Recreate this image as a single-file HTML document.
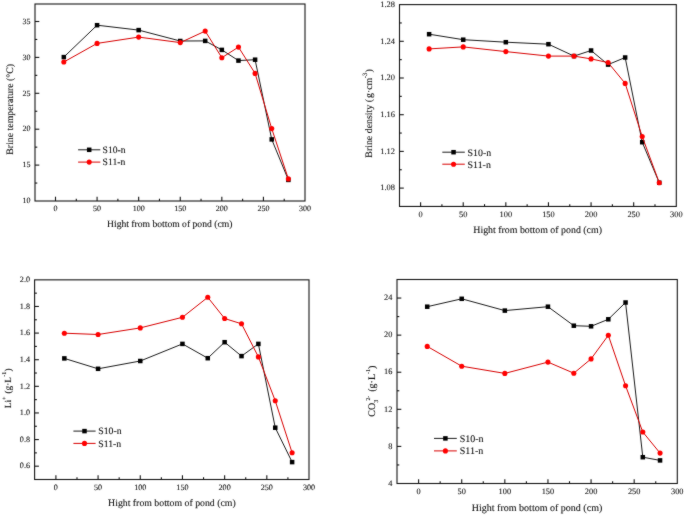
<!DOCTYPE html>
<html><head><meta charset="utf-8"><style>
html,body{margin:0;padding:0;background:#fff;}
body{width:685px;height:516px;overflow:hidden;}
svg{display:block;font-family:"Liberation Serif", serif;will-change:transform;}
text{fill:#111;stroke:#111;stroke-width:0.1px;text-rendering:geometricPrecision;}
</style></head><body>
<svg width="685" height="516" viewBox="0 0 685 516">
<defs><filter id="soft" color-interpolation-filters="sRGB" filterUnits="userSpaceOnUse" x="0" y="0" width="685" height="516"><feConvolveMatrix order="3" kernelMatrix="1 2 1 2 28 2 1 2 1" edgeMode="duplicate"/></filter></defs>
<rect width="685" height="516" fill="#fff"/>
<g filter="url(#soft)">
<rect width="685" height="516" fill="#fff"/>
<rect x="35" y="4" width="270" height="197" fill="none" stroke="#151515" stroke-width="1.1"/>
<line x1="55.5" y1="201" x2="55.5" y2="196.7" stroke="#151515" stroke-width="1.1"/>
<text x="55.5" y="211.4" text-anchor="middle" font-size="8.0">0</text>
<line x1="76.29" y1="201" x2="76.29" y2="198.7" stroke="#151515" stroke-width="1.1"/>
<line x1="97.08" y1="201" x2="97.08" y2="196.7" stroke="#151515" stroke-width="1.1"/>
<text x="97.08" y="211.4" text-anchor="middle" font-size="8.0">50</text>
<line x1="117.88" y1="201" x2="117.88" y2="198.7" stroke="#151515" stroke-width="1.1"/>
<line x1="138.67" y1="201" x2="138.67" y2="196.7" stroke="#151515" stroke-width="1.1"/>
<text x="138.67" y="211.4" text-anchor="middle" font-size="8.0">100</text>
<line x1="159.46" y1="201" x2="159.46" y2="198.7" stroke="#151515" stroke-width="1.1"/>
<line x1="180.25" y1="201" x2="180.25" y2="196.7" stroke="#151515" stroke-width="1.1"/>
<text x="180.25" y="211.4" text-anchor="middle" font-size="8.0">150</text>
<line x1="201.04" y1="201" x2="201.04" y2="198.7" stroke="#151515" stroke-width="1.1"/>
<line x1="221.83" y1="201" x2="221.83" y2="196.7" stroke="#151515" stroke-width="1.1"/>
<text x="221.83" y="211.4" text-anchor="middle" font-size="8.0">200</text>
<line x1="242.62" y1="201" x2="242.62" y2="198.7" stroke="#151515" stroke-width="1.1"/>
<line x1="263.42" y1="201" x2="263.42" y2="196.7" stroke="#151515" stroke-width="1.1"/>
<text x="263.42" y="211.4" text-anchor="middle" font-size="8.0">250</text>
<line x1="284.21" y1="201" x2="284.21" y2="198.7" stroke="#151515" stroke-width="1.1"/>
<text x="305" y="211.4" text-anchor="middle" font-size="8.0">300</text>
<text x="30.4" y="203.2" text-anchor="end" font-size="8.0">10</text>
<line x1="35" y1="165.1" x2="39.3" y2="165.1" stroke="#151515" stroke-width="1.1"/>
<text x="30.4" y="167.3" text-anchor="end" font-size="8.0">15</text>
<line x1="35" y1="129.2" x2="39.3" y2="129.2" stroke="#151515" stroke-width="1.1"/>
<text x="30.4" y="131.4" text-anchor="end" font-size="8.0">20</text>
<line x1="35" y1="93.3" x2="39.3" y2="93.3" stroke="#151515" stroke-width="1.1"/>
<text x="30.4" y="95.5" text-anchor="end" font-size="8.0">25</text>
<line x1="35" y1="57.4" x2="39.3" y2="57.4" stroke="#151515" stroke-width="1.1"/>
<text x="30.4" y="59.6" text-anchor="end" font-size="8.0">30</text>
<line x1="35" y1="21.5" x2="39.3" y2="21.5" stroke="#151515" stroke-width="1.1"/>
<text x="30.4" y="23.7" text-anchor="end" font-size="8.0">35</text>
<line x1="35" y1="183.05" x2="37.3" y2="183.05" stroke="#151515" stroke-width="1.1"/>
<line x1="35" y1="147.15" x2="37.3" y2="147.15" stroke="#151515" stroke-width="1.1"/>
<line x1="35" y1="111.25" x2="37.3" y2="111.25" stroke="#151515" stroke-width="1.1"/>
<line x1="35" y1="75.35" x2="37.3" y2="75.35" stroke="#151515" stroke-width="1.1"/>
<line x1="35" y1="39.45" x2="37.3" y2="39.45" stroke="#151515" stroke-width="1.1"/>
<polyline points="63.82,57.1 97.08,25.2 138.67,30.1 180.25,41 205.2,40.9 221.83,49.9 238.47,60.6 255.1,59.7 271.73,139.4 288.37,179.9" fill="none" stroke="#000" stroke-width="0.9"/>
<rect x="61.57" y="54.85" width="4.5" height="4.5" fill="#000"/>
<rect x="94.83" y="22.95" width="4.5" height="4.5" fill="#000"/>
<rect x="136.42" y="27.85" width="4.5" height="4.5" fill="#000"/>
<rect x="178" y="38.75" width="4.5" height="4.5" fill="#000"/>
<rect x="202.95" y="38.65" width="4.5" height="4.5" fill="#000"/>
<rect x="219.58" y="47.65" width="4.5" height="4.5" fill="#000"/>
<rect x="236.22" y="58.35" width="4.5" height="4.5" fill="#000"/>
<rect x="252.85" y="57.45" width="4.5" height="4.5" fill="#000"/>
<rect x="269.48" y="137.15" width="4.5" height="4.5" fill="#000"/>
<rect x="286.12" y="177.65" width="4.5" height="4.5" fill="#000"/>
<polyline points="63.82,62 97.08,43.4 138.67,37.1 180.25,42.6 205.2,31.1 221.83,57.7 238.47,47.1 255.1,73.4 271.73,128.6 288.37,178.9" fill="none" stroke="#d80000" stroke-width="1.0"/>
<circle cx="63.82" cy="62" r="2.55" fill="#ff0000"/>
<circle cx="97.08" cy="43.4" r="2.55" fill="#ff0000"/>
<circle cx="138.67" cy="37.1" r="2.55" fill="#ff0000"/>
<circle cx="180.25" cy="42.6" r="2.55" fill="#ff0000"/>
<circle cx="205.2" cy="31.1" r="2.55" fill="#ff0000"/>
<circle cx="221.83" cy="57.7" r="2.55" fill="#ff0000"/>
<circle cx="238.47" cy="47.1" r="2.55" fill="#ff0000"/>
<circle cx="255.1" cy="73.4" r="2.55" fill="#ff0000"/>
<circle cx="271.73" cy="128.6" r="2.55" fill="#ff0000"/>
<circle cx="288.37" cy="178.9" r="2.55" fill="#ff0000"/>
<line x1="78.1" y1="149.8" x2="100.3" y2="149.8" stroke="#000" stroke-width="0.9"/>
<rect x="86.95" y="147.55" width="4.5" height="4.5" fill="#000"/>
<text x="102.6" y="153.1" font-size="9.65">S10-n</text>
<line x1="78.1" y1="162.1" x2="100.3" y2="162.1" stroke="#d80000" stroke-width="1.0"/>
<circle cx="89.2" cy="162.1" r="2.55" fill="#ff0000"/>
<text x="102.6" y="165.4" font-size="9.65">S11-n</text>
<text x="107" y="226.9" font-size="9.65">Hight from bottom of pond (cm)</text>
<text transform="translate(12.5,154.7) rotate(-90)" font-size="9.84">Brine temperature (°C)</text>
<rect x="399.5" y="4.6" width="276.8" height="201.85" fill="none" stroke="#151515" stroke-width="1.1"/>
<line x1="420.6" y1="206.45" x2="420.6" y2="202.15" stroke="#151515" stroke-width="1.1"/>
<text x="420.6" y="217.2" text-anchor="middle" font-size="8.37">0</text>
<line x1="441.91" y1="206.45" x2="441.91" y2="204.15" stroke="#151515" stroke-width="1.1"/>
<line x1="463.22" y1="206.45" x2="463.22" y2="202.15" stroke="#151515" stroke-width="1.1"/>
<text x="463.22" y="217.2" text-anchor="middle" font-size="8.37">50</text>
<line x1="484.52" y1="206.45" x2="484.52" y2="204.15" stroke="#151515" stroke-width="1.1"/>
<line x1="505.83" y1="206.45" x2="505.83" y2="202.15" stroke="#151515" stroke-width="1.1"/>
<text x="505.83" y="217.2" text-anchor="middle" font-size="8.37">100</text>
<line x1="527.14" y1="206.45" x2="527.14" y2="204.15" stroke="#151515" stroke-width="1.1"/>
<line x1="548.45" y1="206.45" x2="548.45" y2="202.15" stroke="#151515" stroke-width="1.1"/>
<text x="548.45" y="217.2" text-anchor="middle" font-size="8.37">150</text>
<line x1="569.76" y1="206.45" x2="569.76" y2="204.15" stroke="#151515" stroke-width="1.1"/>
<line x1="591.07" y1="206.45" x2="591.07" y2="202.15" stroke="#151515" stroke-width="1.1"/>
<text x="591.07" y="217.2" text-anchor="middle" font-size="8.37">200</text>
<line x1="612.38" y1="206.45" x2="612.38" y2="204.15" stroke="#151515" stroke-width="1.1"/>
<line x1="633.68" y1="206.45" x2="633.68" y2="202.15" stroke="#151515" stroke-width="1.1"/>
<text x="633.68" y="217.2" text-anchor="middle" font-size="8.37">250</text>
<line x1="654.99" y1="206.45" x2="654.99" y2="204.15" stroke="#151515" stroke-width="1.1"/>
<text x="676.3" y="217.2" text-anchor="middle" font-size="8.37">300</text>
<line x1="399.5" y1="188.1" x2="403.8" y2="188.1" stroke="#151515" stroke-width="1.1"/>
<text x="394.9" y="190.3" text-anchor="end" font-size="8.37">1.08</text>
<line x1="399.5" y1="151.4" x2="403.8" y2="151.4" stroke="#151515" stroke-width="1.1"/>
<text x="394.9" y="153.6" text-anchor="end" font-size="8.37">1.12</text>
<line x1="399.5" y1="114.7" x2="403.8" y2="114.7" stroke="#151515" stroke-width="1.1"/>
<text x="394.9" y="116.9" text-anchor="end" font-size="8.37">1.16</text>
<line x1="399.5" y1="78" x2="403.8" y2="78" stroke="#151515" stroke-width="1.1"/>
<text x="394.9" y="80.2" text-anchor="end" font-size="8.37">1.20</text>
<line x1="399.5" y1="41.3" x2="403.8" y2="41.3" stroke="#151515" stroke-width="1.1"/>
<text x="394.9" y="43.5" text-anchor="end" font-size="8.37">1.24</text>
<text x="394.9" y="6.8" text-anchor="end" font-size="8.37">1.28</text>
<line x1="399.5" y1="169.75" x2="401.8" y2="169.75" stroke="#151515" stroke-width="1.1"/>
<line x1="399.5" y1="133.05" x2="401.8" y2="133.05" stroke="#151515" stroke-width="1.1"/>
<line x1="399.5" y1="96.35" x2="401.8" y2="96.35" stroke="#151515" stroke-width="1.1"/>
<line x1="399.5" y1="59.65" x2="401.8" y2="59.65" stroke="#151515" stroke-width="1.1"/>
<line x1="399.5" y1="22.95" x2="401.8" y2="22.95" stroke="#151515" stroke-width="1.1"/>
<polyline points="429.12,34.2 463.22,39.7 505.83,42.2 548.45,44.2 574.02,56.1 591.07,50.5 608.11,64.6 625.16,57.5 642.21,142.2 659.25,182.7" fill="none" stroke="#000" stroke-width="0.9"/>
<rect x="426.87" y="31.95" width="4.5" height="4.5" fill="#000"/>
<rect x="460.97" y="37.45" width="4.5" height="4.5" fill="#000"/>
<rect x="503.58" y="39.95" width="4.5" height="4.5" fill="#000"/>
<rect x="546.2" y="41.95" width="4.5" height="4.5" fill="#000"/>
<rect x="571.77" y="53.85" width="4.5" height="4.5" fill="#000"/>
<rect x="588.82" y="48.25" width="4.5" height="4.5" fill="#000"/>
<rect x="605.86" y="62.35" width="4.5" height="4.5" fill="#000"/>
<rect x="622.91" y="55.25" width="4.5" height="4.5" fill="#000"/>
<rect x="639.96" y="139.95" width="4.5" height="4.5" fill="#000"/>
<rect x="657" y="180.45" width="4.5" height="4.5" fill="#000"/>
<polyline points="429.12,48.9 463.22,46.9 505.83,51.6 548.45,56.1 574.02,56.1 591.07,58.9 608.11,62.6 625.16,83.4 642.21,136.6 659.25,182.7" fill="none" stroke="#d80000" stroke-width="1.0"/>
<circle cx="429.12" cy="48.9" r="2.55" fill="#ff0000"/>
<circle cx="463.22" cy="46.9" r="2.55" fill="#ff0000"/>
<circle cx="505.83" cy="51.6" r="2.55" fill="#ff0000"/>
<circle cx="548.45" cy="56.1" r="2.55" fill="#ff0000"/>
<circle cx="574.02" cy="56.1" r="2.55" fill="#ff0000"/>
<circle cx="591.07" cy="58.9" r="2.55" fill="#ff0000"/>
<circle cx="608.11" cy="62.6" r="2.55" fill="#ff0000"/>
<circle cx="625.16" cy="83.4" r="2.55" fill="#ff0000"/>
<circle cx="642.21" cy="136.6" r="2.55" fill="#ff0000"/>
<circle cx="659.25" cy="182.7" r="2.55" fill="#ff0000"/>
<line x1="442.3" y1="152.2" x2="464.8" y2="152.2" stroke="#000" stroke-width="0.9"/>
<rect x="451.3" y="149.95" width="4.5" height="4.5" fill="#000"/>
<text x="467.6" y="155.5" font-size="9.89">S10-n</text>
<line x1="442.3" y1="164.2" x2="464.8" y2="164.2" stroke="#d80000" stroke-width="1.0"/>
<circle cx="453.55" cy="164.2" r="2.55" fill="#ff0000"/>
<text x="467.6" y="167.5" font-size="9.89">S11-n</text>
<text x="473.3" y="233" font-size="9.89">Hight from bottom of pond (cm)</text>
<text transform="translate(372.3,157.7) rotate(-90)" font-size="9.89">Brine density (<tspan dx="1.0">g</tspan>·cm<tspan font-size="6.5" dy="-5.3" dx="-0.5">-3</tspan><tspan dy="5.3" dx="0.4">)</tspan></text>
<rect x="34.6" y="279.85" width="274.4" height="199.65" fill="none" stroke="#151515" stroke-width="1.1"/>
<line x1="55.9" y1="479.5" x2="55.9" y2="475.2" stroke="#151515" stroke-width="1.1"/>
<text x="55.9" y="489.8" text-anchor="middle" font-size="8.13">0</text>
<line x1="76.99" y1="479.5" x2="76.99" y2="477.2" stroke="#151515" stroke-width="1.1"/>
<line x1="98.08" y1="479.5" x2="98.08" y2="475.2" stroke="#151515" stroke-width="1.1"/>
<text x="98.08" y="489.8" text-anchor="middle" font-size="8.13">50</text>
<line x1="119.17" y1="479.5" x2="119.17" y2="477.2" stroke="#151515" stroke-width="1.1"/>
<line x1="140.27" y1="479.5" x2="140.27" y2="475.2" stroke="#151515" stroke-width="1.1"/>
<text x="140.27" y="489.8" text-anchor="middle" font-size="8.13">100</text>
<line x1="161.36" y1="479.5" x2="161.36" y2="477.2" stroke="#151515" stroke-width="1.1"/>
<line x1="182.45" y1="479.5" x2="182.45" y2="475.2" stroke="#151515" stroke-width="1.1"/>
<text x="182.45" y="489.8" text-anchor="middle" font-size="8.13">150</text>
<line x1="203.54" y1="479.5" x2="203.54" y2="477.2" stroke="#151515" stroke-width="1.1"/>
<line x1="224.63" y1="479.5" x2="224.63" y2="475.2" stroke="#151515" stroke-width="1.1"/>
<text x="224.63" y="489.8" text-anchor="middle" font-size="8.13">200</text>
<line x1="245.72" y1="479.5" x2="245.72" y2="477.2" stroke="#151515" stroke-width="1.1"/>
<line x1="266.82" y1="479.5" x2="266.82" y2="475.2" stroke="#151515" stroke-width="1.1"/>
<text x="266.82" y="489.8" text-anchor="middle" font-size="8.13">250</text>
<line x1="287.91" y1="479.5" x2="287.91" y2="477.2" stroke="#151515" stroke-width="1.1"/>
<text x="309" y="489.8" text-anchor="middle" font-size="8.13">300</text>
<line x1="34.6" y1="466.19" x2="38.9" y2="466.19" stroke="#151515" stroke-width="1.1"/>
<text x="30" y="468.39" text-anchor="end" font-size="8.13">0.6</text>
<line x1="34.6" y1="439.57" x2="38.9" y2="439.57" stroke="#151515" stroke-width="1.1"/>
<text x="30" y="441.77" text-anchor="end" font-size="8.13">0.8</text>
<line x1="34.6" y1="412.95" x2="38.9" y2="412.95" stroke="#151515" stroke-width="1.1"/>
<text x="30" y="415.15" text-anchor="end" font-size="8.13">1.0</text>
<line x1="34.6" y1="386.33" x2="38.9" y2="386.33" stroke="#151515" stroke-width="1.1"/>
<text x="30" y="388.53" text-anchor="end" font-size="8.13">1.2</text>
<line x1="34.6" y1="359.71" x2="38.9" y2="359.71" stroke="#151515" stroke-width="1.1"/>
<text x="30" y="361.91" text-anchor="end" font-size="8.13">1.4</text>
<line x1="34.6" y1="333.09" x2="38.9" y2="333.09" stroke="#151515" stroke-width="1.1"/>
<text x="30" y="335.29" text-anchor="end" font-size="8.13">1.6</text>
<line x1="34.6" y1="306.47" x2="38.9" y2="306.47" stroke="#151515" stroke-width="1.1"/>
<text x="30" y="308.67" text-anchor="end" font-size="8.13">1.8</text>
<text x="30" y="282.05" text-anchor="end" font-size="8.13">2.0</text>
<line x1="34.6" y1="452.88" x2="36.9" y2="452.88" stroke="#151515" stroke-width="1.1"/>
<line x1="34.6" y1="426.26" x2="36.9" y2="426.26" stroke="#151515" stroke-width="1.1"/>
<line x1="34.6" y1="399.64" x2="36.9" y2="399.64" stroke="#151515" stroke-width="1.1"/>
<line x1="34.6" y1="373.02" x2="36.9" y2="373.02" stroke="#151515" stroke-width="1.1"/>
<line x1="34.6" y1="346.4" x2="36.9" y2="346.4" stroke="#151515" stroke-width="1.1"/>
<line x1="34.6" y1="319.78" x2="36.9" y2="319.78" stroke="#151515" stroke-width="1.1"/>
<line x1="34.6" y1="293.16" x2="36.9" y2="293.16" stroke="#151515" stroke-width="1.1"/>
<polyline points="64.34,358.4 98.08,368.8 140.27,361 182.45,343.9 207.76,358.2 224.63,342.2 241.51,356.1 258.38,343.9 275.25,427.7 292.13,462.1" fill="none" stroke="#000" stroke-width="0.9"/>
<rect x="62.09" y="356.15" width="4.5" height="4.5" fill="#000"/>
<rect x="95.83" y="366.55" width="4.5" height="4.5" fill="#000"/>
<rect x="138.02" y="358.75" width="4.5" height="4.5" fill="#000"/>
<rect x="180.2" y="341.65" width="4.5" height="4.5" fill="#000"/>
<rect x="205.51" y="355.95" width="4.5" height="4.5" fill="#000"/>
<rect x="222.38" y="339.95" width="4.5" height="4.5" fill="#000"/>
<rect x="239.26" y="353.85" width="4.5" height="4.5" fill="#000"/>
<rect x="256.13" y="341.65" width="4.5" height="4.5" fill="#000"/>
<rect x="273" y="425.45" width="4.5" height="4.5" fill="#000"/>
<rect x="289.88" y="459.85" width="4.5" height="4.5" fill="#000"/>
<polyline points="64.34,333.2 98.08,334.5 140.27,327.9 182.45,317.3 207.76,297.3 224.63,318.5 241.51,323.8 258.38,356.9 275.25,400.8 292.13,452.8" fill="none" stroke="#d80000" stroke-width="1.0"/>
<circle cx="64.34" cy="333.2" r="2.55" fill="#ff0000"/>
<circle cx="98.08" cy="334.5" r="2.55" fill="#ff0000"/>
<circle cx="140.27" cy="327.9" r="2.55" fill="#ff0000"/>
<circle cx="182.45" cy="317.3" r="2.55" fill="#ff0000"/>
<circle cx="207.76" cy="297.3" r="2.55" fill="#ff0000"/>
<circle cx="224.63" cy="318.5" r="2.55" fill="#ff0000"/>
<circle cx="241.51" cy="323.8" r="2.55" fill="#ff0000"/>
<circle cx="258.38" cy="356.9" r="2.55" fill="#ff0000"/>
<circle cx="275.25" cy="400.8" r="2.55" fill="#ff0000"/>
<circle cx="292.13" cy="452.8" r="2.55" fill="#ff0000"/>
<line x1="73.4" y1="431.1" x2="95.6" y2="431.1" stroke="#000" stroke-width="0.9"/>
<rect x="82.25" y="428.85" width="4.5" height="4.5" fill="#000"/>
<text x="98.2" y="434.4" font-size="9.81">S10-n</text>
<line x1="73.4" y1="443.4" x2="95.6" y2="443.4" stroke="#d80000" stroke-width="1.0"/>
<circle cx="84.5" cy="443.4" r="2.55" fill="#ff0000"/>
<text x="98.2" y="446.7" font-size="9.81">S11-n</text>
<text x="108.1" y="505.8" font-size="9.81">Hight from bottom of pond (cm)</text>
<text transform="translate(10.6,408.2) rotate(-90)" font-size="9.32">Li<tspan font-size="6" dy="-4.3">+</tspan><tspan dy="4.3" dx="0.6"> (g·L</tspan><tspan font-size="6" dy="-4.3" dx="0.3">-1</tspan><tspan dy="4.3" dx="0.3">)</tspan></text>
<rect x="397" y="279.5" width="280.3" height="204" fill="none" stroke="#151515" stroke-width="1.1"/>
<line x1="418.6" y1="483.5" x2="418.6" y2="479.2" stroke="#151515" stroke-width="1.1"/>
<text x="418.6" y="494.3" text-anchor="middle" font-size="8.31">0</text>
<line x1="440.16" y1="483.5" x2="440.16" y2="481.2" stroke="#151515" stroke-width="1.1"/>
<line x1="461.72" y1="483.5" x2="461.72" y2="479.2" stroke="#151515" stroke-width="1.1"/>
<text x="461.72" y="494.3" text-anchor="middle" font-size="8.31">50</text>
<line x1="483.27" y1="483.5" x2="483.27" y2="481.2" stroke="#151515" stroke-width="1.1"/>
<line x1="504.83" y1="483.5" x2="504.83" y2="479.2" stroke="#151515" stroke-width="1.1"/>
<text x="504.83" y="494.3" text-anchor="middle" font-size="8.31">100</text>
<line x1="526.39" y1="483.5" x2="526.39" y2="481.2" stroke="#151515" stroke-width="1.1"/>
<line x1="547.95" y1="483.5" x2="547.95" y2="479.2" stroke="#151515" stroke-width="1.1"/>
<text x="547.95" y="494.3" text-anchor="middle" font-size="8.31">150</text>
<line x1="569.51" y1="483.5" x2="569.51" y2="481.2" stroke="#151515" stroke-width="1.1"/>
<line x1="591.07" y1="483.5" x2="591.07" y2="479.2" stroke="#151515" stroke-width="1.1"/>
<text x="591.07" y="494.3" text-anchor="middle" font-size="8.31">200</text>
<line x1="612.62" y1="483.5" x2="612.62" y2="481.2" stroke="#151515" stroke-width="1.1"/>
<line x1="634.18" y1="483.5" x2="634.18" y2="479.2" stroke="#151515" stroke-width="1.1"/>
<text x="634.18" y="494.3" text-anchor="middle" font-size="8.31">250</text>
<line x1="655.74" y1="483.5" x2="655.74" y2="481.2" stroke="#151515" stroke-width="1.1"/>
<text x="677.3" y="494.3" text-anchor="middle" font-size="8.31">300</text>
<text x="392.4" y="485.7" text-anchor="end" font-size="8.31">4</text>
<line x1="397" y1="446.41" x2="401.3" y2="446.41" stroke="#151515" stroke-width="1.1"/>
<text x="392.4" y="448.61" text-anchor="end" font-size="8.31">8</text>
<line x1="397" y1="409.32" x2="401.3" y2="409.32" stroke="#151515" stroke-width="1.1"/>
<text x="392.4" y="411.52" text-anchor="end" font-size="8.31">12</text>
<line x1="397" y1="372.23" x2="401.3" y2="372.23" stroke="#151515" stroke-width="1.1"/>
<text x="392.4" y="374.43" text-anchor="end" font-size="8.31">16</text>
<line x1="397" y1="335.14" x2="401.3" y2="335.14" stroke="#151515" stroke-width="1.1"/>
<text x="392.4" y="337.34" text-anchor="end" font-size="8.31">20</text>
<line x1="397" y1="298.05" x2="401.3" y2="298.05" stroke="#151515" stroke-width="1.1"/>
<text x="392.4" y="300.25" text-anchor="end" font-size="8.31">24</text>
<line x1="397" y1="464.95" x2="399.3" y2="464.95" stroke="#151515" stroke-width="1.1"/>
<line x1="397" y1="427.86" x2="399.3" y2="427.86" stroke="#151515" stroke-width="1.1"/>
<line x1="397" y1="390.77" x2="399.3" y2="390.77" stroke="#151515" stroke-width="1.1"/>
<line x1="397" y1="353.68" x2="399.3" y2="353.68" stroke="#151515" stroke-width="1.1"/>
<line x1="397" y1="316.59" x2="399.3" y2="316.59" stroke="#151515" stroke-width="1.1"/>
<polyline points="427.22,306.7 461.72,298.8 504.83,310.6 547.95,306.7 573.82,325.7 591.07,326.3 608.31,319.3 625.56,302.5 642.81,457.2 660.05,460.4" fill="none" stroke="#000" stroke-width="0.9"/>
<rect x="424.97" y="304.45" width="4.5" height="4.5" fill="#000"/>
<rect x="459.47" y="296.55" width="4.5" height="4.5" fill="#000"/>
<rect x="502.58" y="308.35" width="4.5" height="4.5" fill="#000"/>
<rect x="545.7" y="304.45" width="4.5" height="4.5" fill="#000"/>
<rect x="571.57" y="323.45" width="4.5" height="4.5" fill="#000"/>
<rect x="588.82" y="324.05" width="4.5" height="4.5" fill="#000"/>
<rect x="606.06" y="317.05" width="4.5" height="4.5" fill="#000"/>
<rect x="623.31" y="300.25" width="4.5" height="4.5" fill="#000"/>
<rect x="640.56" y="454.95" width="4.5" height="4.5" fill="#000"/>
<rect x="657.8" y="458.15" width="4.5" height="4.5" fill="#000"/>
<polyline points="427.22,346.4 461.72,366.2 504.83,373.4 547.95,362.1 573.82,373.2 591.07,358.9 608.31,335.3 625.56,385.7 642.81,432 660.05,453.1" fill="none" stroke="#d80000" stroke-width="1.0"/>
<circle cx="427.22" cy="346.4" r="2.55" fill="#ff0000"/>
<circle cx="461.72" cy="366.2" r="2.55" fill="#ff0000"/>
<circle cx="504.83" cy="373.4" r="2.55" fill="#ff0000"/>
<circle cx="547.95" cy="362.1" r="2.55" fill="#ff0000"/>
<circle cx="573.82" cy="373.2" r="2.55" fill="#ff0000"/>
<circle cx="591.07" cy="358.9" r="2.55" fill="#ff0000"/>
<circle cx="608.31" cy="335.3" r="2.55" fill="#ff0000"/>
<circle cx="625.56" cy="385.7" r="2.55" fill="#ff0000"/>
<circle cx="642.81" cy="432" r="2.55" fill="#ff0000"/>
<circle cx="660.05" cy="453.1" r="2.55" fill="#ff0000"/>
<line x1="434" y1="438.4" x2="456.8" y2="438.4" stroke="#000" stroke-width="0.9"/>
<rect x="443.15" y="436.15" width="4.5" height="4.5" fill="#000"/>
<text x="459.7" y="441.7" font-size="10.02">S10-n</text>
<line x1="434" y1="450.9" x2="456.8" y2="450.9" stroke="#d80000" stroke-width="1.0"/>
<circle cx="445.4" cy="450.9" r="2.55" fill="#ff0000"/>
<text x="459.7" y="454.2" font-size="10.02">S11-n</text>
<text x="471.8" y="510.6" font-size="10.02">Hight from bottom of pond (cm)</text>
<text transform="translate(374.5,416.7) rotate(-90)" font-size="10.02">CO<tspan font-size="6" dy="3.2">3</tspan><tspan font-size="5.8" dy="-7.8" dx="-0.8">2-</tspan><tspan dy="4.6" dx="1.5"> (g·L</tspan><tspan font-size="6" dy="-4.5">-1</tspan><tspan dy="4.5">)</tspan></text>
</g>
</svg>
</body></html>
